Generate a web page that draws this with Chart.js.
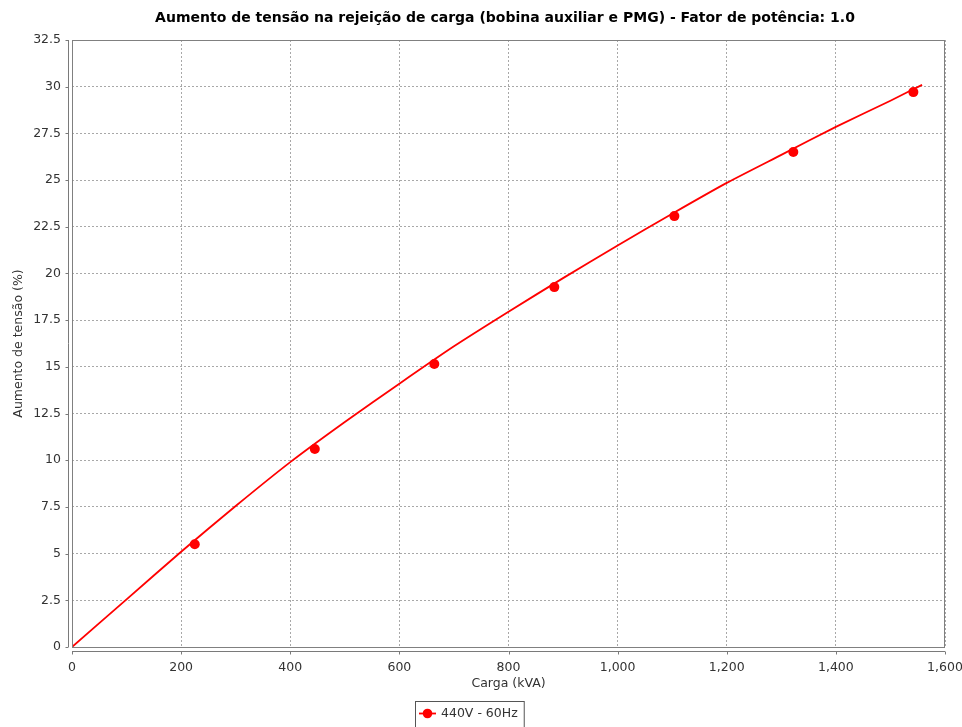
<!DOCTYPE html>
<html>
<head>
<meta charset="utf-8">
<script src="https://cdn.jsdelivr.net/npm/chart.js@4"></script>
<style>
  html, body { margin: 0; padding: 0; background: #ffffff; }
  #wrap { width: 962px; height: 727px; }
</style>
</head>
<body>
<div id="wrap"><canvas id="c" width="962" height="727"></canvas></div>
<script>
// Measured load points (kVA) and voltage rise (%)
const cargaPontos = [225, 445, 664, 884, 1104, 1322, 1542];
const aumentoPontos = [5.5, 10.6, 15.15, 19.27, 23.07, 26.5, 29.71];

// Fitted curve
const cargaCurva = [0, 100, 200, 300, 400, 500, 600, 700, 800, 900, 1000, 1100, 1200, 1300, 1400, 1500, 1558];
const aumentoCurva = [0, 2.55, 5.1, 7.55, 9.9, 12.05, 14.1, 16.1, 17.95, 19.75, 21.5, 23.2, 24.85, 26.35, 27.85, 29.25, 30.1];

const tituloGrafico = 'Aumento de tensão na rejeição de carga (bobina auxiliar e PMG) - Fator de potência: 1.0';
const tituloX = 'Carga (kVA)';
const tituloY = 'Aumento de tensão (%)';
const serieNome = '440V - 60Hz';
const corSerie = '#ff0000';

const FONT = '"DejaVu Sans", sans-serif';

// Frame, offset axis lines, title and boxed legend
const moldura = {
  id: 'moldura',
  afterDraw(chart) {
    const { ctx, chartArea: a, scales } = chart;
    ctx.save();
    // plot outline
    ctx.strokeStyle = '#808080';
    ctx.lineWidth = 1;
    ctx.strokeRect(a.left + 0.5, a.top + 0.5, a.right - a.left - 1, a.bottom - a.top);
    // axis lines set slightly away from the plot
    ctx.strokeStyle = '#7a7a7a';
    ctx.beginPath();
    const ax = a.left - 4 + 0.5;
    ctx.moveTo(ax, a.top); ctx.lineTo(ax, a.bottom);
    scales.y.ticks.forEach(t => {
      const py = Math.round(scales.y.getPixelForValue(t.value)) + 0.5;
      ctx.moveTo(ax - 3, py); ctx.lineTo(ax, py);
    });
    const ay = a.bottom + 4 + 0.5;
    ctx.moveTo(a.left, ay); ctx.lineTo(a.right, ay);
    scales.x.ticks.forEach(t => {
      const px = Math.round(scales.x.getPixelForValue(t.value)) + 0.5;
      ctx.moveTo(px, ay); ctx.lineTo(px, ay + 3);
    });
    ctx.stroke();

    // title
    ctx.fillStyle = '#000000';
    ctx.font = 'bold 14px ' + FONT;
    ctx.textAlign = 'center';
    ctx.textBaseline = 'middle';
    ctx.fillText(tituloGrafico, 505, 18);

    // legend
    ctx.font = '12.5px ' + FONT;
    const label = chart.data.datasets[1].label;
    const tw = ctx.measureText(label).width;
    const bx = 415, by = 701, bw = 26 + tw + 6, bh = 30;
    ctx.strokeStyle = '#555555';
    ctx.strokeRect(bx + 0.5, by + 0.5, bw, bh);
    ctx.strokeStyle = corSerie;
    ctx.lineWidth = 1.8;
    ctx.beginPath();
    ctx.moveTo(bx + 4, by + 12.5); ctx.lineTo(bx + 21, by + 12.5);
    ctx.stroke();
    ctx.fillStyle = corSerie;
    ctx.beginPath();
    ctx.arc(bx + 12.5, by + 12.5, 4.8, 0, Math.PI * 2);
    ctx.fill();
    ctx.fillStyle = '#333333';
    ctx.textAlign = 'left';
    ctx.fillText(label, bx + 26, by + 13);
    ctx.restore();
  }
};

new Chart(document.getElementById('c'), {
  type: 'scatter',
  data: {
    datasets: [
      {
        label: 'curva',
        data: cargaCurva.map((x, i) => ({ x, y: aumentoCurva[i] })),
        showLine: true,
        borderColor: corSerie,
        borderWidth: 1.8,
        pointRadius: 0,
        tension: 0.2,
        fill: false
      },
      {
        label: serieNome,
        data: cargaPontos.map((x, i) => ({ x, y: aumentoPontos[i] })),
        showLine: false,
        backgroundColor: corSerie,
        borderWidth: 0,
        pointRadius: 5,
        pointHoverRadius: 5
      }
    ]
  },
  options: {
    responsive: false,
    animation: false,
    events: [],
    layout: { padding: { left: 0, top: 40, right: 17, bottom: 0 } },
    plugins: {
      legend: { display: false },
      title: { display: false },
      tooltip: { enabled: false }
    },
    scales: {
      x: {
        type: 'linear',
        min: 0,
        max: 1600,
        afterFit(s) { s.height = 80; s.paddingLeft = 0; s.paddingRight = 0; },
        ticks: {
          stepSize: 200,
          padding: 13,
          color: '#333333',
          font: { family: FONT, size: 12.5 },
          maxRotation: 0,
          callback: v => v.toLocaleString('en-US')
        },
        grid: { color: '#a8a8a8', lineWidth: 1, drawTicks: false },
        border: { display: false, dash: [2, 2] },
        title: {
          display: true,
          text: tituloX,
          color: '#333333',
          font: { family: FONT, size: 12.5 },
          padding: { top: 0, bottom: 36 }
        }
      },
      y: {
        type: 'linear',
        min: 0,
        max: 32.5,
        afterFit(s) { s.width = 72; s.paddingTop = 0; s.paddingBottom = 0; },
        ticks: {
          stepSize: 2.5,
          padding: 11,
          color: '#333333',
          font: { family: FONT, size: 12.5 },
          callback: v => String(v)
        },
        grid: { color: '#a8a8a8', lineWidth: 1, drawTicks: false },
        border: { display: false, dash: [2, 2] },
        title: {
          display: true,
          text: tituloY,
          color: '#333333',
          font: { family: FONT, size: 12.5 },
          padding: { top: 11, bottom: 0 }
        }
      }
    }
  },
  plugins: [moldura]
});
</script>
</body>
</html>
